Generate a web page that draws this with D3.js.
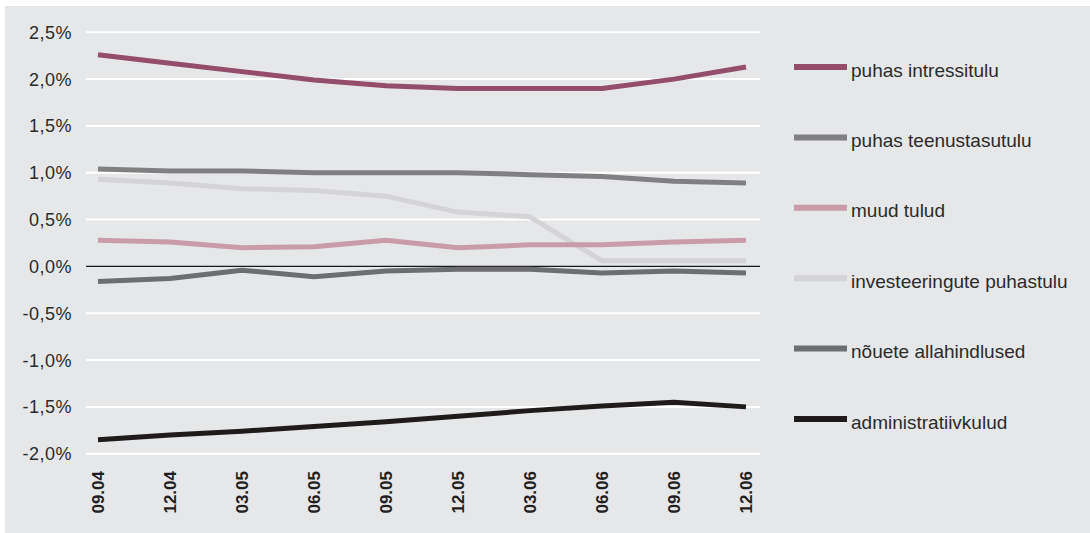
<!DOCTYPE html>
<html>
<head>
<meta charset="utf-8">
<script src="https://cdn.jsdelivr.net/npm/d3@7"></script>
<style>
  body { margin: 0; background: #fff; }
  svg { display: block; font-family: "Liberation Sans", Arial, sans-serif; }
</style>
</head>
<body>
<script>
// quarters on the x axis
const quarters = ['09.04', '12.04', '03.05', '06.05', '09.05', '12.05', '03.06', '06.06', '09.06', '12.06'];

// y axis ticks (percent)
const yTicks = [2.5, 2.0, 1.5, 1.0, 0.5, 0.0, -0.5, -1.0, -1.5, -2.0];

// series values, %
const puhasIntressitulu = [2.26, 2.17, 2.08, 1.99, 1.93, 1.90, 1.90, 1.90, 2.00, 2.13];
const puhasTeenustasutulu = [1.04, 1.02, 1.02, 1.00, 1.00, 1.00, 0.98, 0.96, 0.91, 0.89];
const muudTulud = [0.28, 0.26, 0.20, 0.21, 0.28, 0.20, 0.23, 0.23, 0.26, 0.28];
const investeeringutePuhastulu = [0.93, 0.89, 0.83, 0.81, 0.75, 0.58, 0.53, 0.06, 0.06, 0.06];
const nouteteAllahindlused = [-0.16, -0.13, -0.04, -0.11, -0.05, -0.03, -0.03, -0.07, -0.05, -0.07];
const administratiivkulud = [-1.85, -1.80, -1.76, -1.71, -1.66, -1.60, -1.54, -1.49, -1.45, -1.50];

const seriesNames = ['puhas intressitulu', 'puhas teenustasutulu', 'muud tulud',
  'investeeringute puhastulu', 'nõuete allahindlused', 'administratiivkulud'];
const seriesValues = [puhasIntressitulu, puhasTeenustasutulu, muudTulud,
  investeeringutePuhastulu, nouteteAllahindlused, administratiivkulud];
const seriesColors = ['#944d6b', '#808082', '#c89da9', '#d4d4d6', '#6d6e72', '#1f1b1b'];

const W = 1090, H = 533;

const svg = d3.select('body').append('svg')
  .attr('width', W)
  .attr('height', H);

// grey panel
svg.append('rect')
  .attr('x', 5).attr('y', 6)
  .attr('width', W - 5).attr('height', H - 6)
  .attr('fill', '#e6e7e9');

const x = d3.scalePoint()
  .domain(quarters)
  .range([98, 746]);

const y = d3.scaleLinear()
  .domain([-2, 2.5])
  .range([453.7, 32.3]);

const gridLeft = 86, gridRight = 760;

// horizontal grid
svg.append('g')
  .selectAll('line')
  .data(yTicks)
  .enter().append('line')
  .attr('x1', gridLeft).attr('x2', gridRight)
  .attr('y1', d => y(d)).attr('y2', d => y(d))
  .attr('stroke', d => d === 0 ? '#1a1a1a' : '#ffffff')
  .attr('stroke-width', d => d === 0 ? 1.3 : 2);

// y labels
const fmt = d => d3.format('.1f')(d).replace('.', ',').replace('−', '-') + '%';
svg.append('g')
  .selectAll('text')
  .data(yTicks)
  .enter().append('text')
  .attr('x', 72)
  .attr('y', d => y(d))
  .attr('dy', '0.36em')
  .attr('text-anchor', 'end')
  .attr('font-size', '18px')
  .attr('letter-spacing', '0.5px')
  .attr('fill', '#2b2b2b')
  .text(fmt);

// x labels, rotated
svg.append('g')
  .selectAll('text')
  .data(quarters)
  .enter().append('text')
  .attr('transform', d => 'translate(' + x(d) + ',471) rotate(-90)')
  .attr('dy', '0.36em')
  .attr('text-anchor', 'end')
  .attr('font-size', '17px')
  .attr('font-weight', 'bold')
  .attr('fill', '#1f1f1f')
  .text(d => d);

// lines (draw light ones under darker ones in the same order as the source)
const line = d3.line()
  .x((d, i) => x(quarters[i]))
  .y(d => y(d));

const drawOrder = [3, 2, 1, 4, 0, 5];
svg.append('g')
  .selectAll('path')
  .data(drawOrder)
  .enter().append('path')
  .attr('d', k => line(seriesValues[k]))
  .attr('fill', 'none')
  .attr('stroke', k => seriesColors[k])
  .attr('stroke-width', 5)
  .attr('stroke-linejoin', 'round');

// legend
const legend = svg.append('g')
  .selectAll('g')
  .data(seriesNames)
  .enter().append('g')
  .attr('transform', (d, i) => 'translate(794,' + (67 + i * 70.4) + ')');

legend.append('line')
  .attr('x1', 0).attr('x2', 53)
  .attr('y1', 0).attr('y2', 0)
  .attr('stroke', (d, i) => seriesColors[i])
  .attr('stroke-width', 6);

legend.append('text')
  .attr('x', 57)
  .attr('y', 9.5)
  .attr('font-size', '19px')
  .attr('fill', '#2b2b2b')
  .text(d => d);
</script>
</body>
</html>
